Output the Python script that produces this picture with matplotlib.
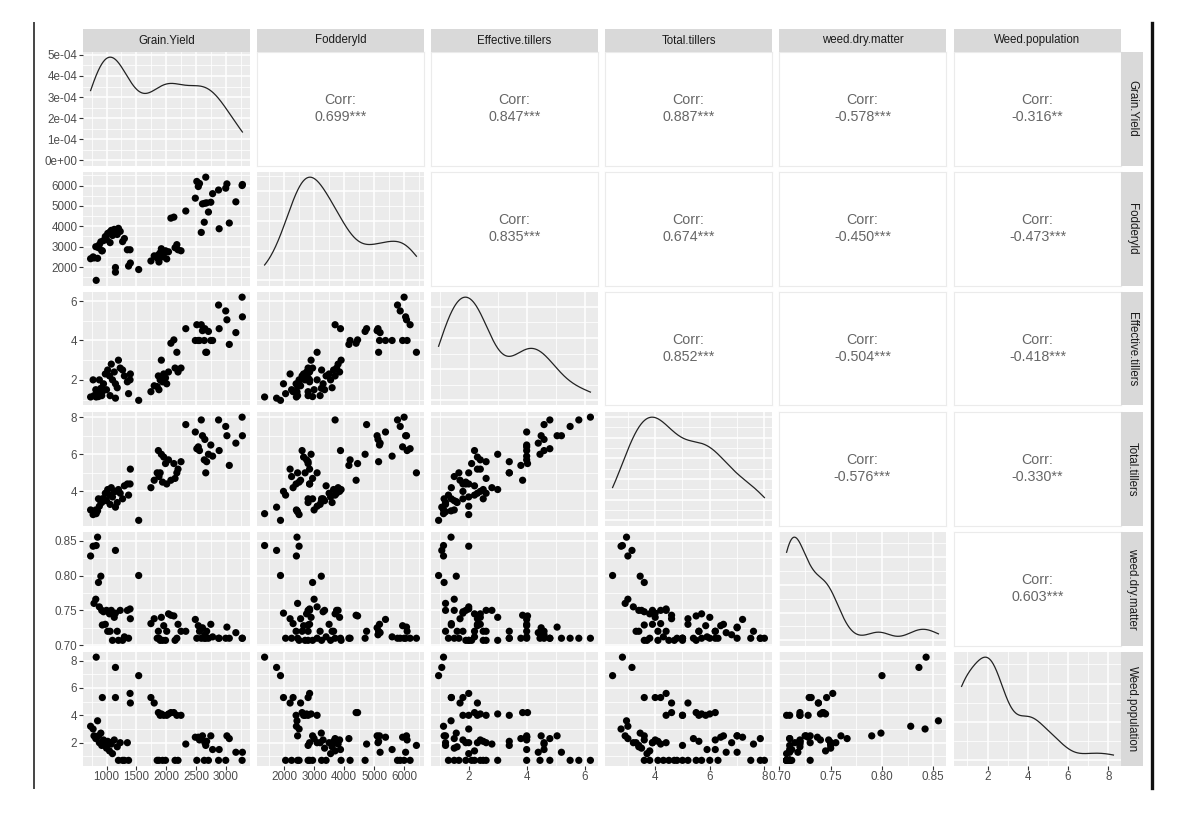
import numpy as np
import matplotlib
matplotlib.use('Agg')
import matplotlib.pyplot as plt
from matplotlib.lines import Line2D
from matplotlib.ticker import MaxNLocator

plt.rcParams['font.family'] = ['Liberation Sans', 'DejaVu Sans']

var_names = ['Grain.Yield', 'Fodderyld', 'Effective.tillers', 'Total.tillers',
             'weed.dry.matter', 'Weed.population']

grain_yield = [733, 775, 827, 850, 865, 905, 1150, 1540, 930, 1150, 1395, 1400, 1370,
               790, 820, 880, 920, 950, 980, 1000, 1020, 1050, 1060, 1080, 1100, 1130,
               1180, 1200, 1230, 1270, 1300, 1350,
               1745, 1800, 1850, 1870, 1880, 1900, 1920, 1940, 1960, 1990, 2010, 2040,
               2080, 2130, 2150, 2180, 2200, 2250, 2330,
               2490, 2515, 2540, 2560, 2590, 2610, 2640, 2650, 2665, 2680, 2710, 2750,
               2780, 2880, 2890, 3000, 3020, 3060, 3170, 3275, 3280]
fodder_yield = [2410, 2500, 1350, 2430, 2950, 3240, 1750, 1880, 2800, 1980, 2850, 2200, 2050,
                2450, 3000, 3100, 2800, 3300, 3500, 3350, 3650, 3700, 3200, 3800, 3550, 3850,
                3600, 3900, 3750, 3250, 3400, 2850,
                2300, 2550, 2450, 2600, 2250, 2700, 2900, 2500, 2650, 2800, 2400, 2750,
                4400, 4450, 2950, 3100, 2850, 2800, 4750,
                5380, 6200, 5950, 6100, 3700, 5100, 4200, 5130, 6410, 5150, 4700, 5180,
                5600, 5780, 3880, 5870, 6080, 4160, 5200, 6000, 6050]
effective_tillers = [1.13, 2.00, 1.13, 1.39, 1.15, 1.57, 1.07, 0.96, 1.40, 1.80, 2.00, 2.30, 1.30,
                     1.20, 1.50, 2.00, 1.20, 1.80, 2.30, 1.50, 2.50, 2.20, 1.20, 2.80, 2.00, 2.40,
                     1.60, 3.00, 2.60, 2.50, 2.20, 1.90,
                     1.40, 1.70, 1.66, 2.20, 1.50, 2.00, 3.00, 1.90, 2.30, 2.10, 1.80, 2.40,
                     3.86, 4.03, 2.60, 3.40, 2.40, 2.60, 4.60,
                     4.00, 4.80, 4.00, 4.00, 4.80, 4.50, 4.00, 4.60, 3.40, 3.40, 4.46, 4.00,
                     4.00, 5.80, 4.60, 5.50, 5.05, 3.80, 4.40, 6.20, 5.20]
total_tillers = [3.00, 2.75, 2.80, 2.95, 3.60, 3.45, 3.15, 2.44, 3.60, 4.00, 4.40, 5.20, 3.80,
                 2.90, 3.00, 3.20, 3.40, 3.60, 3.90, 3.50, 4.10, 3.80, 3.30, 4.20, 3.70, 4.00,
                 3.40, 4.10, 3.90, 3.60, 4.30, 4.40,
                 4.20, 4.60, 5.00, 6.20, 4.80, 5.00, 6.00, 4.50, 5.85, 5.50, 4.40, 5.70,
                 4.60, 5.50, 4.70, 5.00, 5.20, 5.60, 7.60,
                 7.20, 6.30, 6.40, 6.20, 7.85, 7.00, 5.70, 6.80, 5.00, 5.60, 6.00, 6.50,
                 5.90, 7.85, 6.20, 7.50, 7.00, 5.40, 6.60, 8.00, 7.00]
weed_dry_matter = [0.828, 0.842, 0.843, 0.855, 0.790, 0.799, 0.836, 0.800, 0.729, 0.746, 0.752,
                   0.738, 0.710,
                   0.760, 0.766, 0.755, 0.750, 0.748, 0.730, 0.750, 0.720, 0.745, 0.720, 0.750,
                   0.707, 0.740, 0.720, 0.707, 0.750, 0.707, 0.712, 0.750,
                   0.731, 0.738, 0.710, 0.720, 0.710, 0.707, 0.740, 0.707, 0.728, 0.707, 0.720,
                   0.745, 0.743, 0.742, 0.707, 0.710, 0.730, 0.720, 0.720,
                   0.737, 0.710, 0.728, 0.720, 0.710, 0.725, 0.710, 0.715, 0.710, 0.720, 0.710,
                   0.730, 0.712, 0.710, 0.710, 0.710, 0.726, 0.710, 0.718, 0.710, 0.710]
weed_population = [3.20, 3.00, 8.25, 3.60, 2.50, 2.70, 7.50, 6.90, 5.30, 5.30, 5.60, 4.90, 0.71,
                   2.50, 2.30, 2.00, 1.80, 2.20, 2.00, 1.60, 2.10, 1.40, 2.00, 1.90, 1.20, 2.20,
                   1.70, 0.71, 2.00, 0.71, 0.71, 2.00,
                   5.30, 4.90, 0.71, 4.20, 0.71, 4.00, 4.10, 0.71, 4.00, 0.71, 4.00, 4.10,
                   4.20, 4.20, 0.71, 4.00, 0.71, 4.00, 1.90,
                   2.40, 0.71, 2.40, 2.20, 2.30, 2.50, 0.71, 2.00, 1.80, 2.10, 0.71, 2.50,
                   1.50, 0.71, 1.50, 0.71, 2.50, 2.30, 1.30, 0.71, 1.30]

corr_labels = {
    (0, 1): '0.699***', (0, 2): '0.847***', (0, 3): '0.887***', (0, 4): '-0.578***', (0, 5): '-0.316**',
    (1, 2): '0.835***', (1, 3): '0.674***', (1, 4): '-0.450***', (1, 5): '-0.473***',
    (2, 3): '0.852***', (2, 4): '-0.504***', (2, 5): '-0.418***',
    (3, 4): '-0.576***', (3, 5): '-0.330**',
    (4, 5): '0.603***',
}

axis_breaks = [[1000, 1500, 2000, 2500, 3000],
               [2000, 3000, 4000, 5000, 6000],
               [2, 4, 6],
               [4, 6, 8],
               [0.70, 0.75, 0.80, 0.85],
               [2, 4, 6, 8]]
axis_labels = [['1000', '1500', '2000', '2500', '3000'],
               ['2000', '3000', '4000', '5000', '6000'],
               ['2', '4', '6'],
               ['4', '6', '8'],
               ['0.70', '0.75', '0.80', '0.85'],
               ['2', '4', '6', '8']]
density_breaks = [0, 1e-4, 2e-4, 3e-4, 4e-4, 5e-4]
density_labels = ['0e+00', '1e-04', '2e-04', '3e-04', '4e-04', '5e-04']

data = [np.array(v, float) for v in (grain_yield, fodder_yield, effective_tillers,
                                     total_tillers, weed_dry_matter, weed_population)]
n_var = len(data)


def kde(v):
    n = len(v)
    sd = v.std(ddof=1)
    q75, q25 = np.percentile(v, [75, 25])
    bw = 0.9 * min(sd, (q75 - q25) / 1.34) * n ** (-0.2)
    xs = np.linspace(v.min(), v.max(), 512)
    ys = np.exp(-0.5 * ((xs[:, None] - v[None, :]) / bw) ** 2).sum(1) / (n * bw * np.sqrt(2 * np.pi))
    return xs, ys


def limits(v):
    r = v.max() - v.min()
    return v.min() - 0.05 * r, v.max() + 0.05 * r


def minors(breaks, lim):
    b = np.asarray(breaks, float)
    step = b[1] - b[0]
    m = np.arange(b[0] - step / 2, b[-1] + step, step)
    return [x for x in m if lim[0] <= x <= lim[1]]


W, H = 1178, 825
fig = plt.figure(figsize=(W / 100, H / 100), dpi=100)
fig.patch.set_facecolor('white')

col_x = [83, 257, 431, 605, 779, 954]
row_y = [52, 172, 292, 412, 532, 652]
pw, ph = 167, 113.5


def rect(x, y, w, h):
    return [x / W, 1 - (y + h) / H, w / W, h / H]


lims = [limits(v) for v in data]
tick_col = '#4D4D4D'
fs_tick = 8.4

for i in range(n_var):
    for j in range(n_var):
        ax = fig.add_axes(rect(col_x[j], row_y[i], pw, ph))
        for s in ax.spines.values():
            s.set_visible(False)
        if i < j:
            ax.set_facecolor('white')
            for s in ax.spines.values():
                s.set_visible(True)
                s.set_color('#EBEBEB')
                s.set_linewidth(0.8)
            ax.set_xticks([])
            ax.set_yticks([])
            ax.set_xlim(0, 1)
            ax.set_ylim(0, 1)
            ax.text(0.5, 0.5, 'Corr:\n' + corr_labels[(i, j)], ha='center', va='center',
                    fontsize=10.3, color='#666666', linespacing=1.25)
            continue
        ax.set_facecolor('#EBEBEB')
        ax.set_axisbelow(True)
        xl = lims[j]
        ax.set_xlim(xl)
        ax.set_xticks(axis_breaks[j])
        ax.set_xticks(minors(axis_breaks[j], xl), minor=True)
        if i == j:
            xs, ys = kde(data[j])
            ax.plot(xs, ys, color='#222222', lw=0.9)
            m = ys.max()
            yl = (-0.05 * m, 1.05 * m)
            ax.set_ylim(yl)
            if i == 0:
                yb = density_breaks
            else:
                yb = list(MaxNLocator(nbins=5, steps=[1, 2, 2.5, 5, 10]).tick_values(0, m))
                yb = [b for b in yb if yl[0] <= b <= yl[1]]
            ax.set_yticks(yb)
            ax.set_yticks(minors(yb, yl), minor=True)
            if i == 0:
                ax.set_yticklabels(density_labels)
        else:
            ax.scatter(data[j], data[i], s=27, color='black', edgecolors='none', zorder=3)
            yl = lims[i]
            ax.set_ylim(yl)
            ax.set_yticks(axis_breaks[i])
            ax.set_yticks(minors(axis_breaks[i], yl), minor=True)
            ax.set_yticklabels(axis_labels[i])
        ax.set_xticklabels(axis_labels[j])
        ax.grid(which='major', color='white', lw=1.1)
        ax.grid(which='minor', color='white', lw=0.55)
        ax.tick_params(which='minor', length=0)
        show_x = (i == n_var - 1)
        show_y = (j == 0)
        ax.tick_params(axis='x', which='major', length=2.6 if show_x else 0, width=0.8,
                       color='#333333', labelsize=fs_tick, labelcolor=tick_col, pad=1.5,
                       labelbottom=show_x)
        ax.tick_params(axis='y', which='major', length=2.6 if show_y else 0, width=0.8,
                       color='#333333', labelsize=fs_tick, labelcolor=tick_col, pad=1.5,
                       labelleft=show_y)

# strips
for j in range(n_var):
    sa = fig.add_axes(rect(col_x[j], 29, pw, 23))
    sa.set_facecolor('#D9D9D9')
    sa.set_xticks([]); sa.set_yticks([])
    for s in sa.spines.values():
        s.set_visible(False)
    sa.text(0.5, 0.5, var_names[j], ha='center', va='center', fontsize=8.3, color='#1A1A1A',
            transform=sa.transAxes)
for i in range(n_var):
    sa = fig.add_axes(rect(1121, row_y[i], 22, ph))
    sa.set_facecolor('#D9D9D9')
    sa.set_xticks([]); sa.set_yticks([])
    for s in sa.spines.values():
        s.set_visible(False)
    sa.text(0.5, 0.5, var_names[i], ha='center', va='center', fontsize=8.3, color='#1A1A1A',
            rotation=-90, transform=sa.transAxes)

# frame lines of the screenshot
fig.add_artist(Line2D([34 / W, 34 / W], [1 - 23 / H, 1 - 788 / H], color='#444444', lw=1.4))
fig.add_artist(Line2D([1152 / W, 1152 / W], [1 - 23 / H, 1 - 788 / H], color='#111111', lw=2.4))

fig.savefig('out.png', dpi=100, facecolor='white')
